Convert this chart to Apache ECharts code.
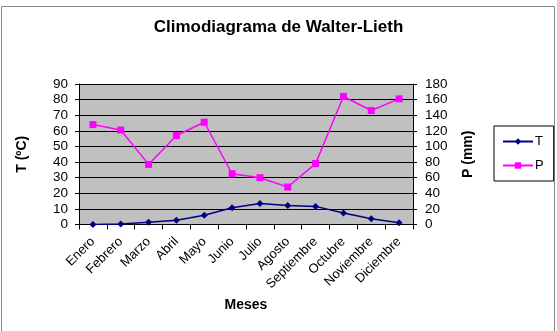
<!DOCTYPE html>
<html>
<head>
    <meta charset="utf-8" />
    <title>Climodiagrama</title>
    <script type="text/javascript" src="https://cdn.jsdelivr.net/npm/echarts@6/dist/echarts.min.js"></script>
    <style>
        html, body { margin: 0; padding: 0; background: #fff; }
        #main { width: 557px; height: 331px; }
    </style>
</head>
<body>
    <div id="main"></div>
    <script type="text/javascript">
        // datos
        var meses = ['Enero', 'Febrero', 'Marzo', 'Abril', 'Mayo', 'Junio', 'Julio', 'Agosto', 'Septiembre', 'Octubre', 'Noviembre', 'Diciembre'];
        var temperatura = [0, 0.3, 1.4, 2.7, 5.9, 10.7, 13.5, 12.2, 11.6, 7.3, 3.7, 1.1];
        var precipitacion = [128, 121, 77, 114, 131, 65, 60, 48, 78, 164, 146, 161];

        var myChart = echarts.init(document.getElementById('main'));
        var font = 'Liberation Sans, Arial, sans-serif';

        var option = {
            animation: false,
            title: {
                text: 'Climodiagrama de Walter-Lieth',
                left: 'center',
                top: 14,
                textStyle: { fontFamily: font, fontSize: 17, fontWeight: 'bold', color: '#000' }
            },
            graphic: [{
                type: 'rect',
                shape: { x: 1.5, y: 6.5, width: 553, height: 340 },
                style: { fill: 'none', stroke: '#888', lineWidth: 1 },
                silent: true
            }],
            legend: {
                orient: 'vertical',
                left: 494,
                top: 126,
                width: 58,
                padding: [9, 10, 9, 8],
                itemGap: 11,
                itemWidth: 30,
                itemHeight: 8,
                borderColor: '#000',
                borderWidth: 1,
                backgroundColor: '#fff',
                textStyle: { fontFamily: font, fontSize: 13, color: '#000', padding: [0, 0, 0, -3] },
                data: ['T', 'P']
            },
            grid: { left: 79, right: 144, top: 84, bottom: 106.5, show: true, backgroundColor: '#c0c0c0', borderWidth: 0 },
            xAxis: {
                type: 'category',
                data: meses,
                name: 'Meses',
                nameLocation: 'middle',
                nameGap: 74,
                nameTextStyle: { fontFamily: font, fontSize: 14, fontWeight: 'bold', color: '#000' },
                axisLine: { lineStyle: { color: '#000' } },
                axisTick: { show: true, length: 5, lineStyle: { color: '#000' } },
                axisLabel: { rotate: 45, interval: 0, fontFamily: font, fontSize: 13, color: '#000', margin: 15 }
            },
            yAxis: [{
                type: 'value',
                min: 0, max: 90, interval: 10,
                name: 'T (ºC)',
                nameLocation: 'middle',
                nameGap: 50,
                nameTextStyle: { fontFamily: font, fontSize: 14, fontWeight: 'bold', color: '#000' },
                axisLine: { show: true, lineStyle: { color: '#000' } },
                axisTick: { show: true, length: 4, lineStyle: { color: '#000' } },
                axisLabel: { fontFamily: font, fontSize: 13.5, color: '#000', margin: 11 },
                splitLine: { lineStyle: { color: '#000', width: 1 } }
            }, {
                type: 'value',
                min: 0, max: 180, interval: 20,
                name: 'P (mm)',
                nameLocation: 'middle',
                nameGap: 48,
                nameTextStyle: { fontFamily: font, fontSize: 14, fontWeight: 'bold', color: '#000' },
                axisLine: { show: true, lineStyle: { color: '#000' } },
                axisTick: { show: true, length: 4, lineStyle: { color: '#000' } },
                axisLabel: { fontFamily: font, fontSize: 13.5, color: '#000', margin: 12 },
                splitLine: { show: false }
            }],
            series: [{
                name: 'T',
                type: 'line',
                yAxisIndex: 0,
                data: temperatura,
                symbol: 'diamond',
                symbolSize: 7,
                itemStyle: { color: '#000080' },
                lineStyle: { color: '#000080', width: 1.5 }
            }, {
                name: 'P',
                type: 'line',
                yAxisIndex: 1,
                data: precipitacion,
                symbol: 'rect',
                symbolSize: 7,
                itemStyle: { color: '#ff00ff' },
                lineStyle: { color: '#ff00ff', width: 1.5 }
            }]
        };

        myChart.setOption(option);
    </script>
</body>
</html>
